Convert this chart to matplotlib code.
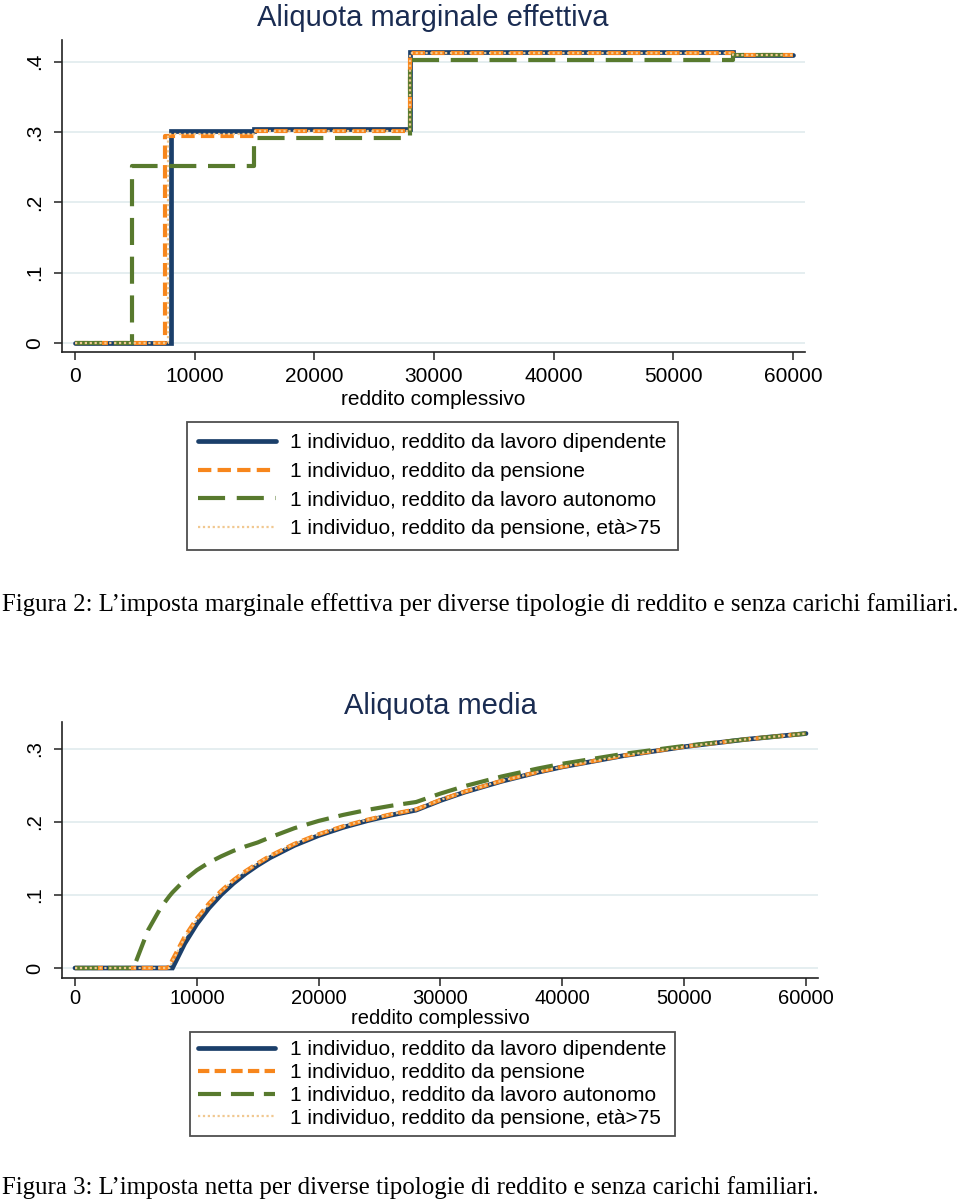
import matplotlib.pyplot as plt

plt.rcParams['font.family'] = ['Liberation Sans', 'DejaVu Sans']

# ---- data: aliquota marginale (step values, income thresholds) ----
marg_x_dip = [0, 8000, 15000, 28000, 55000, 60000]
marg_dip = [0.0, 0.302, 0.304, 0.414, 0.41, 0.41]
marg_x_pen = [0, 7500, 15000, 28000, 55000, 60000]
marg_pen = [0.0, 0.295, 0.302, 0.412, 0.41, 0.41]
marg_x_aut = [0, 4800, 15000, 28000, 55000, 60000]
marg_aut = [0.0, 0.252, 0.292, 0.402, 0.41, 0.41]
marg_x_p75 = [0, 7750, 15000, 28000, 55000, 60000]
marg_p75 = [0.0, 0.297, 0.302, 0.412, 0.41, 0.41]

# ---- data: aliquota media ----
avg_x = [0, 4800, 6000, 7000, 7500, 7750, 8000, 9000, 10000, 11000, 12000,
         13000, 14000, 15000, 16000, 18000, 20000, 22000, 24000, 26000,
         28000, 30000, 32000, 35000, 38000, 40000, 45000, 50000, 55000, 60000]
avg_dip = [0, 0, 0, 0, 0, 0, 0, 0.0335, 0.0603, 0.0823, 0.1006,
           0.1160, 0.1293, 0.1408, 0.1510, 0.1679, 0.1815, 0.1926, 0.2018, 0.2096,
           0.2163, 0.2295, 0.2410, 0.2557, 0.2682, 0.2755, 0.2908, 0.3031, 0.3131, 0.3212]
avg_pen = [0, 0, 0, 0, 0, 0.002, 0.0112, 0.0427, 0.0679, 0.0885, 0.1057,
           0.1203, 0.1327, 0.1435, 0.1535, 0.1700, 0.1833, 0.1941, 0.2031, 0.2108,
           0.2173, 0.2303, 0.2417, 0.2563, 0.2687, 0.2758, 0.2910, 0.3032, 0.3131, 0.3212]
avg_aut = [0, 0, 0.0520, 0.0815, 0.0930, 0.0985, 0.1035, 0.1205, 0.1340, 0.1445, 0.1530,
           0.1605, 0.1666, 0.1720, 0.1789, 0.1915, 0.2015, 0.2097, 0.2166, 0.2224,
           0.2274, 0.2390, 0.2492, 0.2623, 0.2733, 0.2798, 0.2933, 0.3042, 0.3131, 0.3212]
avg_p75 = [0, 0, 0, 0, 0, 0, 0.0092, 0.0412, 0.0668, 0.0877, 0.1052,
           0.1199, 0.1326, 0.1435, 0.1535, 0.1700, 0.1833, 0.1941, 0.2031, 0.2108,
           0.2173, 0.2303, 0.2417, 0.2563, 0.2687, 0.2758, 0.2910, 0.3032, 0.3131, 0.3212]

labels = ['1 individuo, reddito da lavoro dipendente',
          '1 individuo, reddito da pensione',
          '1 individuo, reddito da lavoro autonomo',
          '1 individuo, reddito da pensione, età>75']
xticks = [0, 10000, 20000, 30000, 40000, 50000, 60000]

NAVY = '#1b3f6a'
ORANGE = '#f7861c'
GREEN = '#587a2e'
PEACH = '#f1c890'
TITLE_C = '#1a2c52'

W, H = 960, 1201
fig = plt.figure(figsize=(W / 100, H / 100), dpi=100)


def px_axes(left, top, right, bottom):
    return fig.add_axes([left / W, 1 - bottom / H, (right - left) / W, (bottom - top) / H])


def style(ax, xlim, ylim, yticks, ylabels, xpad, labelpad, fs):
    ax.set_xlim(*xlim)
    ax.set_ylim(*ylim)
    for s in ['top', 'right']:
        ax.spines[s].set_visible(False)
    for s in ['left', 'bottom']:
        ax.spines[s].set_linewidth(1.2)
        ax.spines[s].set_color('#222222')
    ax.set_xticks(xticks)
    ax.set_xticklabels([str(v) for v in xticks])
    ax.set_yticks(yticks)
    ax.set_yticklabels(ylabels)
    ax.grid(axis='y', color='#e3edef', lw=1.3)
    ax.set_axisbelow(True)
    ax.tick_params(axis='both', length=6, width=1.1, color='#222222', labelsize=fs)
    ax.tick_params(axis='x', pad=xpad)
    ax.tick_params(axis='y', pad=7)
    for t in ax.get_yticklabels():
        t.set_rotation(90)
        t.set_va('center')
        t.set_ha('right')
    ax.set_xlabel('reddito complessivo', fontsize=fs, labelpad=labelpad)


def draw(ax, xs, ys, step, scale):
    ds = 'steps-post' if step else 'default'
    lines = []
    lines += ax.plot(xs[0], ys[0], color=NAVY, lw=3.4, drawstyle=ds,
                     solid_capstyle='round', solid_joinstyle='miter')
    lines += ax.plot(xs[1], ys[1], color=ORANGE, lw=3.0, drawstyle=ds,
                     linestyle=(0, (3.2 * scale, 1.5 * scale)))
    lines += ax.plot(xs[2], ys[2], color=GREEN, lw=3.0, drawstyle=ds,
                     linestyle=(0, (6.5 * scale, 2.8 * scale)))
    lines += ax.plot(xs[3], ys[3], color=PEACH, lw=1.6, drawstyle=ds,
                     linestyle=(0, (1, 1.2)))
    return lines


def legend(lines, x, y, spacing, pad):
    leg = fig.legend(lines, labels, loc='upper left', bbox_to_anchor=(x / W, 1 - y / H),
                     fontsize=15, frameon=True, fancybox=False, handlelength=3.7,
                     handletextpad=0.7, labelspacing=spacing, borderpad=pad,
                     borderaxespad=0)
    leg.get_frame().set_edgecolor('#222222')
    leg.get_frame().set_linewidth(1.3)
    return leg


# ---- chart 1: aliquota marginale effettiva ----
ax1 = px_axes(62, 40, 805, 352)
lines1 = draw(ax1, [marg_x_dip, marg_x_pen, marg_x_aut, marg_x_p75],
              [marg_dip, marg_pen, marg_aut, marg_p75], True, 1.0)
style(ax1, (-1086, 61003), (-0.0128, 0.431), [0, 0.1, 0.2, 0.3, 0.4],
      ['0', '.1', '.2', '.3', '.4'], 5, 3, 15)
fig.text(433 / W, 1 - 18 / H, 'Aliquota marginale effettiva', ha='center', va='center',
         fontsize=21, color=TITLE_C)
legend(lines1, 187, 422, 0.46, 0.55)

fig.text(0.002, 1 - 605 / H,
         'Figura 2: L’imposta marginale effettiva per diverse tipologie di reddito e senza carichi familiari.',
         ha='left', va='center', fontsize=17.9, family='Liberation Serif')

# ---- chart 2: aliquota media ----
ax2 = px_axes(62, 722, 818, 978)
lines2 = draw(ax2, [avg_x] * 4, [avg_dip, avg_pen, avg_aut, avg_p75], False, 0.85)
style(ax2, (-1067, 60985), (-0.0137, 0.337), [0, 0.1, 0.2, 0.3], ['0', '.1', '.2', '.3'],
      2, 1, 14.5)
fig.text(440 / W, 1 - 706 / H, 'Aliquota media', ha='center', va='center',
         fontsize=21, color=TITLE_C)
legend(lines2, 190, 1032, 0.18, 0.4)

fig.text(0.002, 1 - 1188 / H,
         'Figura 3: L’imposta netta per diverse tipologie di reddito e senza carichi familiari.',
         ha='left', va='center', fontsize=17.9, family='Liberation Serif')

fig.savefig('out.png', dpi=100, facecolor='white')
